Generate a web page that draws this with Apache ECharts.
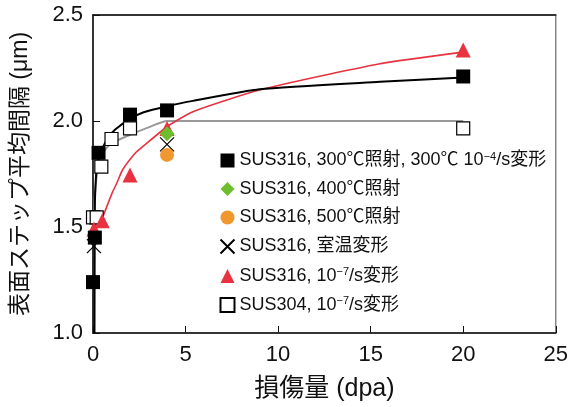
<!DOCTYPE html>
<html>
<head>
<meta charset="utf-8">
<script src="https://cdn.jsdelivr.net/npm/echarts@6/dist/echarts.min.js"></script>
<style>
    html,body{margin:0;padding:0;background:#fff;}
    #chart{width:571px;height:407px;}
</style>
</head>
<body>
<div id="chart"></div>
<script>
    // 凡例名
    var names = [
        'SUS316, 300℃照射, 300℃ 10⁻⁴/s変形',
        'SUS316, 400℃照射',
        'SUS316, 500℃照射',
        'SUS316, 室温変形',
        'SUS316, 10⁻⁷/s変形',
        'SUS304, 10⁻⁷/s変形'
    ];

    // 測定点 (dpa, μm)
    var s300 = [[0, 1.24], [0.1, 1.45], [0.3, 1.85], [2, 2.03], [4, 2.05], [20, 2.21]];
    var s400 = [[4, 1.94]];
    var s500 = [[4, 1.84]];
    var sRT = [[0.05, 1.41], [4, 1.89]];
    var s316slow = [[0.05, 1.49], [0.5, 1.53], [2, 1.745], [4, 1.965], [20, 2.335]];
    var s304slow = [[0, 1.545], [0.2, 1.545], [0.45, 1.785], [1, 1.915], [2, 1.965], [20, 1.965]];

    // フィット曲線
    var fitBlack = [[0.08, 1.0], [0.1, 1.6], [0.15, 1.72], [0.22, 1.8], [0.35, 1.84], [0.5, 1.87], [0.8, 1.92],
        [1.2, 1.96], [2, 2.01], [2.7, 2.04], [4, 2.07], [5.4, 2.095], [9, 2.15], [15.5, 2.185], [20, 2.205]];
    var fitGray = [[0.03, 1.48], [0.1, 1.65], [0.22, 1.756], [0.38, 1.83], [0.65, 1.864], [1, 1.895],
        [2, 1.935], [3, 1.97], [4, 2.0], [20, 2.0]];
    var fitRed = [[0.3, 1.5], [0.54, 1.55], [1.03, 1.66], [1.3, 1.71], [1.6, 1.77], [2.3, 1.85], [2.7, 1.88],
        [4, 1.973], [5.4, 2.044], [9, 2.146], [15.5, 2.27], [20, 2.325]];

    var xTicks = [0, 5, 10, 15, 20, 25];
    var yTicks = [1.0, 1.5, 2.0, 2.5];

    var font = '"Liberation Sans", "Noto Sans CJK JP", sans-serif';
    var cross = 'path://M0,0L10,10M10,0L0,10';

    function fitLine(data, color, width) {
        return {
            type: 'line', data: data, showSymbol: false, symbol: 'none', silent: true,
            smooth: 0.2, z: 2,
            lineStyle: {color: color, width: width}
        };
    }

    var myChart = echarts.init(document.getElementById('chart'));
    var option = {
        animation: false,
        textStyle: {fontFamily: font},
        grid: {left: 93, right: 15, top: 15, bottom: 73, show: true, borderColor: '#888', borderWidth: 1.5},
        legend: {
            orient: 'vertical', left: 213, top: 146, itemGap: 10.5,
            itemWidth: 14, itemHeight: 14,
            textStyle: {
                fontSize: 18, color: '#111', fontFamily: font,
                rich: {sup: {fontSize: 11, color: '#111', fontFamily: font, padding: [0, 0, 8, 0]}}
            },
            formatter: function (n) {
                return n.replace('10⁻⁴', '10{sup|−4}').replace('10⁻⁷', '10{sup|−7}');
            },
            data: names
        },
        xAxis: [{
            type: 'value', min: xTicks[0], max: xTicks[xTicks.length - 1], interval: 5,
            name: '損傷量 (dpa)', nameLocation: 'middle', nameGap: 44,
            nameTextStyle: {fontSize: 25, color: '#111'},
            axisLine: {lineStyle: {color: '#111', width: 1.5}},
            axisTick: {inside: true, length: 7, lineStyle: {color: '#111'}},
            axisLabel: {fontSize: 22, color: '#111', margin: 11},
            splitLine: {show: false}
        }, {
            type: 'value', position: 'top', min: 0, max: 25,
            axisLine: {show: true, lineStyle: {color: '#111', width: 1.5}},
            axisTick: {show: false}, axisLabel: {show: false}, splitLine: {show: false}
        }],
        yAxis: {
            type: 'value', min: yTicks[0], max: yTicks[yTicks.length - 1], interval: 0.5,
            name: '表面ステップ平均間隔 (μm)', nameLocation: 'middle', nameGap: 61, nameRotate: 90,
            nameTextStyle: {fontSize: 23, color: '#111'},
            axisLine: {lineStyle: {color: '#111', width: 1.5}},
            axisTick: {inside: true, length: 7, lineStyle: {color: '#111'}},
            axisLabel: {fontSize: 22, color: '#111', margin: 10, formatter: function (v) { return v.toFixed(1); }},
            splitLine: {show: false}
        },
        series: [
            fitLine(fitGray, '#999999', 2),
            fitLine(fitRed, '#e8323f', 1.6),
            fitLine(fitBlack, '#000000', 2),
            {name: names[5], type: 'scatter', data: s304slow, symbol: 'rect', symbolSize: 13, z: 3,
                itemStyle: {color: '#fff', borderColor: '#000', borderWidth: 1.2, opacity: 1}},
            {name: names[3], type: 'scatter', data: sRT, symbol: cross, symbolSize: 14, z: 3,
                itemStyle: {color: 'none', borderColor: '#000', borderWidth: 1.2, opacity: 1}},
            {name: names[4], type: 'scatter', data: s316slow, symbol: 'triangle', symbolSize: 15, z: 3,
                itemStyle: {color: '#e8323f', opacity: 1}},
            {name: names[2], type: 'scatter', data: s500, symbol: 'circle', symbolSize: 14, z: 3,
                itemStyle: {color: '#f0982f', opacity: 1}},
            {name: names[1], type: 'scatter', data: s400, symbol: 'diamond', symbolSize: 15, z: 3,
                itemStyle: {color: '#6dbd2c', opacity: 1}},
            {name: names[0], type: 'scatter', data: s300, symbol: 'rect', symbolSize: 14, z: 4,
                itemStyle: {color: '#000', opacity: 1}}
        ]
    };
    myChart.setOption(option);
</script>
</body>
</html>
